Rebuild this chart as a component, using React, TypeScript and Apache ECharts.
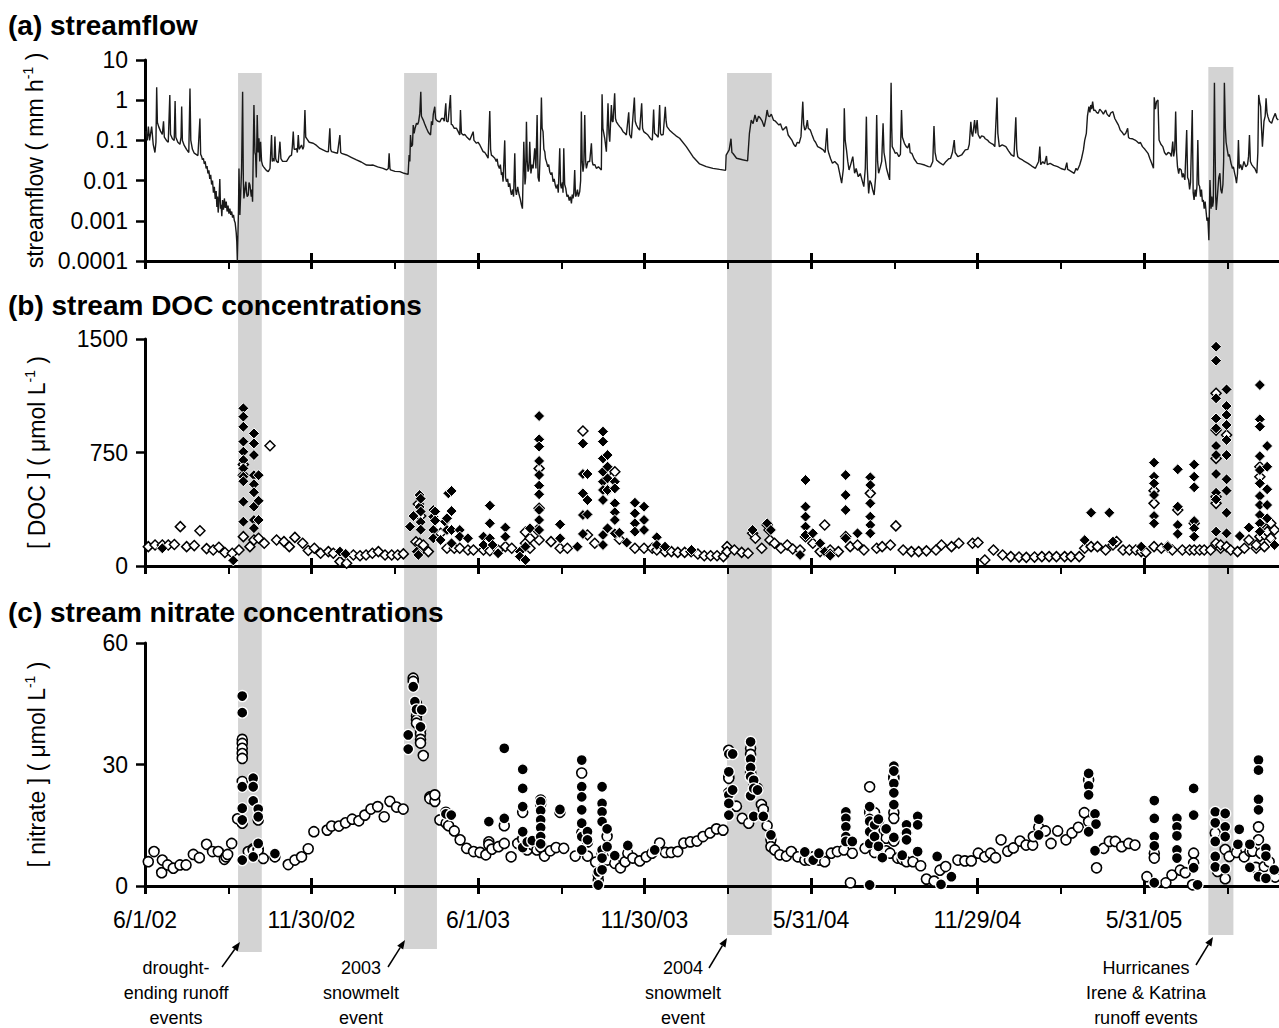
import React, { useEffect, useRef } from "react";
import * as echarts from "echarts";

const FONT = "'Liberation Sans', Arial, Helvetica, sans-serif";

// x values are days since 6/1/2002
const X_STEP = 182.5;
const X_MAX = 1277.5;

const panelTitles = ["(a) streamflow", "(b) stream DOC concentrations", "(c) stream nitrate concentrations"];
const yAxisNames = [
  "{n|streamflow ( mm h}{s|-1}{n| )}",
  "{n|[ DOC ] ( \u03bcmol L}{s|-1}{n| )}",
  "{n|[ nitrate ] ( \u03bcmol L}{s|-1}{n| )}",
];
const flowRange = [0.0001, 10];
const docRange = [0, 1500, 750];
const nitrateRange = [0, 60, 30];

// event bands (days since 6/1/02)
const bandStartDay = [102, 284, 638, 1165.5];
const bandEndDay = [128, 320, 687, 1193];
const bandLabels = [
  "drought-\nending runoff\nevents",
  "2003\nsnowmelt\nevent",
  "2004\nsnowmelt\nevent",
  "Hurricanes\nIrene & Katrina\nrunoff events",
];

// streamflow (mm/h)
const flowA = [
[1,0.17],[2.5,0.1],[3.7,0.22],[5,0.1],[7.3,0.22],[9,0.08],[10.9,0.05],[12,0.09],[12.8,2.1],[13.6,0.28],[15,0.22],[17,0.17],[19,0.14],[20.3,0.3],[21.2,0.12],[23.5,0.1],[25.5,0.09],[27.2,1.35],[28,0.14],[30,0.11],[32,0.1],[33,0.95],[33.8,0.12],[36,0.09],[38.3,0.08],[39.5,0.12],[40.2,0.7],[41,0.1],[43,0.075],[45.5,0.06],[48,0.05],[49.3,1.95],[50.2,0.1],[52,0.06],[54,0.048],[56,0.045],[58,0.042],
[60.2,0.35],[61,0.045],[62,0.04],[63,0.033],[64,0.036],[65,0.026],[66,0.03],[67,0.02],[68,0.023],[69,0.015],[70,0.018],[71,0.011],[72,0.014],[73,0.008],[74,0.01],[75,0.005],[76,0.007],[77,0.0035],[78,0.0055],[78.8,0.0022],[79.5,0.004],[80.2,0.0016],[81,0.003],[82,0.011],[82.8,0.002],[83.5,0.0025],[84.2,0.0013],[85,0.0033],[86,0.0019],[87,0.0036],[88,0.0021],[89,0.003],[90,0.0017],[91,0.0024],[92,0.0015],[93,0.002],[94,0.0014],[95,0.0017],[96,0.0012],[97,0.0014],[98,0.001],[98.8,0.0009],[100,0.0005],[100.6,0.0003],[101.2,0.0001],
[102.5,0.002],[103,0.02],[104,0.0014],[105.9,0.02],[107,1.63],[107.8,0.01],[108.4,0.0036],[109.5,0.006],[110.6,0.0094],[111.3,0.005],[112,0.004],[113.2,0.0044],[114,0.009],[115,0.0078],[116,0.005],[116.5,0.004],[117.2,0.006],[117.9,0.003],[119.4,0.76],[120.5,0.05],[121.2,0.043],[122,0.012],[123,0.43],[124,0.05],[124.9,0.113],[125.8,0.03],[126.7,0.093],[127.8,0.03],[128.9,0.024],[130,0.022],[131.4,0.02],[133,0.018],[135.1,0.0167],[137,0.02],[138.7,0.136],[139.5,0.03],[140.6,0.036],[141.5,0.03],[142.4,0.124],[143.3,0.035],[144.2,0.03],[146,0.028],[147.9,0.093],[149,0.035],[150.8,0.03],[153,0.03],[155.2,0.03],[157,0.035],[158.5,0.04],[160.6,0.043],[161.5,0.07],[162.5,0.165],[163.5,0.06],[165,0.06],[166.1,0.063],[167,0.05],[168,0.136],[169,0.06],[171.6,0.077],[173,0.06],[174,0.07],[175.3,0.57],[176.2,0.12],[177.1,0.113],[180,0.09],[184.4,0.085],[188,0.075],[191.7,0.063],[195,0.058],[199,0.0525],[201,0.052],[202.6,0.2],[203.5,0.06],[204.5,0.0525],[208,0.05],[211,0.048],[213.6,0.136],[214.5,0.05],[215.4,0.0477],[220.9,0.0434],[226,0.038],[231.8,0.0326],[237,0.029],[242.8,0.0244],[247,0.024],[250.1,0.0244],[255,0.022],[261,0.0202],[264.7,0.0184],[266.7,0.02],[267.6,0.0477],[268.5,0.02],[269.1,0.0184],[274,0.017],[279.3,0.0167],[284,0.0152],[288.4,0.0143],
[289.5,0.0434],[290.3,0.03],[291,0.136],[292,0.07],[293.2,0.077],[294,0.242],[295,0.15],[296,0.2],[297.6,0.266],[299,0.25],[300,0.3],[301.2,0.47],[302.3,1.63],[303,0.4],[305,0.32],[306.5,0.26],[308.5,0.2],[310.5,0.16],[313,0.136],[314,0.3],[315.1,0.242],[316,0.45],[317.6,0.69],[318.5,0.35],[319.5,0.32],[321,0.3],[323.1,0.29],[325,0.35],[326.8,0.354],[328,0.3],[329.7,0.836],[330.5,0.3],[332.2,0.29],[334.8,1.35],[335.7,0.25],[337,0.242],[339,0.2],[341.4,0.2],[343,0.17],[345,0.136],
];
const flowB = [
[345.8,0.57],[346.8,0.15],[348.7,0.136],[350.5,0.14],[352.4,0.124],[356,0.102],[359.7,0.165],[360.6,0.1],[363.3,0.085],[365,0.09],[367,0.077],[370.6,0.0525],[372.5,0.05],[374.3,0.043],[376.1,0.036],[377.9,0.54],[378.8,0.06],[379.7,0.043],[381.5,0.04],[383.4,0.036],[385,0.03],[386,0.035],[387,0.024],[388.5,0.02],[389.5,0.025],[390.7,0.0138],[391.5,0.016],[392.5,0.0094],[394.3,0.1],[395.2,0.012],[396.2,0.0094],[397.5,0.011],[398.5,0.007],[399.8,0.0085],[400.8,0.0055],[401.7,0.0044],[403,0.006],[404,0.004],[405.3,0.048],[406.2,0.006],[407.1,0.0044],[408.5,0.007],[410,0.0045],[411.3,0.0035],[412.6,0.0025],[413.7,0.002],[415.2,0.093],[416.5,0.008],[417.2,0.012],[418.1,0.29],[419,0.03],[419.9,0.0167],[420.8,0.02],[421.7,0.093],[423,0.015],[424.2,0.025],[425.4,0.0202],[427.2,0.0635],[428.5,0.02],[429.8,0.43],[430.8,0.012],[432,0.0094],[433.2,0.05],[434.5,1.16],[435.3,0.2],[436.3,0.165],[437.2,0.06],[438.2,0.0525],[439,0.035],[440,0.0296],[441.5,0.022],[442.5,0.025],[443.6,0.0167],[445,0.014],[446,0.016],[447.3,0.0094],[448.5,0.011],[449.8,0.0075],[450.9,0.0064],[452,0.008],[453,0.005],[454.6,0.0635],[455.5,0.008],[456.4,0.0064],[457.5,0.009],[458.2,0.005],[459,0.0635],[460,0.008],[461.2,0.0064],[462.5,0.004],[463.7,0.0044],[465,0.0032],[466.2,0.004],[467.4,0.0027],[468.3,0.0045],[469.2,0.0036],[470,0.005],[471,0.0184],[471.9,0.004],[472.8,0.0044],[474,0.006],[475,0.004],[476.5,0.0053],[477.5,0.01],[478.3,0.52],[479.2,0.03],[480.1,0.0167],[481,0.025],[482,0.43],[483,0.03],[483.8,0.0202],[485.5,0.03],[487.4,0.0296],[489.3,0.085],[490.2,0.03],[491.1,0.0244],[493,0.025],[494.7,0.0202],[497,0.022],[500.2,0.0184],[501,1.4],[501.9,0.2],[503.9,0.113],[505.7,0.0525],[507.5,0.836],[508.5,0.15],[509.4,0.093],[511.2,0.76],[512.1,0.3],[513,0.29],[514.8,1.48],[515.7,0.35],[516.7,0.29],[518.5,0.25],[520.3,0.22],[522,0.2],[524,0.165],[526,0.15],[527.6,0.136],[530.2,0.5],[531.2,0.14],[533.1,0.113],[536.4,1.16],[537.3,0.3],[538.6,0.242],[540.5,0.2],[542.2,0.18],[544.4,0.836],[545.4,0.2],[546.6,0.165],[549,0.15],[551.3,0.136],[554,0.11],[556.1,0.102],[557.5,0.59],[558.5,0.15],[560.5,0.136],[562.5,0.12],[564.1,0.76],[565,0.15],[565.9,0.136],[568,0.14],[570.3,0.69],[571.2,0.3],[572.1,0.22],[575,0.18],[578.7,0.15],[582,0.13],[586,0.113],[593.3,0.07],[600.6,0.0394],[607.9,0.026],[615.2,0.0222],[622.5,0.0202],[629.8,0.019],[636.4,0.018],
];
const flowC = [
[637,0.043],[640.3,0.058],[642.3,0.11],[643.3,0.05],[644.3,0.048],[648.4,0.036],[655,0.033],[660.5,0.031],[662.5,0.15],[664.5,0.32],[666.5,0.26],[668.6,0.43],[670.6,0.29],[672.5,0.4],[674.6,0.354],[676.5,0.3],[678.7,0.22],[680.5,0.35],[681.9,0.57],[683.3,0.4],[684.8,0.39],[686.5,0.45],[688.8,0.32],[691,0.3],[694.9,0.24],[696.5,0.26],[698.9,0.18],[703,0.22],[705,0.136],[709,0.102],[711,0.08],[713,0.07],[715,0.09],[717,0.085],[719,0.124],[721,0.92],[722,0.25],[723.2,0.18],[724.5,0.2],[726,0.32],[727,0.2],[729.3,0.18],[731,0.14],[733.3,0.102],[735,0.09],[737.3,0.07],[740,0.065],[743.4,0.058],[745.5,0.05],[747.5,0.2],[748.5,0.06],[749.5,0.0477],[751.5,0.035],[753.5,0.0269],[756,0.03],[759.6,0.0244],[761.5,0.015],[763.6,0.0086],[765.5,0.02],[766.5,0.63],[767.5,0.1],[768.9,0.058],[770.3,0.03],[771.7,0.0184],[773.5,0.025],[775.8,0.0394],[777.8,0.0152],[779.5,0.02],[781.8,0.0125],[784,0.015],[785.9,0.0104],[787.9,0.0071],[789.5,0.02],[790.7,0.39],[791.7,0.02],[793.2,0.0048],[794.5,0.01],[796,0.0086],[797.5,0.006],[799.2,0.0044],[800.8,0.012],[802,0.43],[803,0.03],[804.1,0.0152],[806.1,0.0222],[807.5,0.03],[809,0.266],[810,0.05],[811.4,0.0326],[812.8,0.02],[814.2,0.0152],[816.2,0.0104],[817.8,2.73],[818.5,0.2],[819,0.07],[820.5,0.06],[822.3,0.0477],[824,0.05],[826.3,0.0394],[828,0.045],[829.2,0.57],[830.2,0.12],[832.4,0.0845],[834.4,0.07],[836,0.065],[837.7,0.0845],[838.7,0.05],[840.5,0.0477],[843,0.035],[846.5,0.0269],[850,0.026],[854.6,0.0244],[858.7,0.0222],[861,0.022],[863.5,0.03],[864.8,0.228],[866,0.05],[867.6,0.0326],[871,0.028],[874.9,0.0244],[878,0.03],[881,0.035],[883,0.0358],[885,0.05],[887,0.102],[888,0.05],[891,0.0394],[895.1,0.0434],[899.1,0.058],[902,0.06],[903.5,0.08],[905.2,0.29],[906.2,0.15],[907.2,0.124],[909.3,0.32],[910.5,0.15],[912.1,0.32],[913.2,0.14],[915.3,0.1125],[917,0.13],[919.4,0.124],[921,0.11],[923.4,0.102],[925.5,0.09],[927.5,0.0845],[929.5,0.08],[931.5,0.07],[933.9,1.16],[934.8,0.15],[936.4,0.07],[939.6,0.077],[943.6,0.07],[946.5,0.055],[949.7,0.0434],[952.5,0.04],[954.5,0.375],[955.5,0.06],[956.6,0.0394],[959,0.035],[961.8,0.0326],[964,0.03],[967.9,0.0269],[972,0.023],[976,0.0202],[979.5,0.03],[980.8,0.07],[981.8,0.025],[984.1,0.0296],[986,0.026],[988.1,0.041],[989,0.025],[992.2,0.0269],[996,0.024],[1000.3,0.0222],[1004,0.02],[1008.4,0.0184],[1010.4,0.028],[1011.3,0.019],[1012.4,0.0184],[1015,0.017],[1018.5,0.0152],[1020.5,0.0202],[1022,0.018],[1024.5,0.0244],[1026.5,0.035],[1028.6,0.058],[1030,0.1],[1031.8,0.15],[1033,0.4],[1034.6,0.69],[1035.7,0.5],[1036.7,0.76],[1037.7,0.6],[1038.7,0.92],[1040,0.55],[1041.5,0.57],[1043,0.5],[1044.8,0.47],[1046.5,0.6],[1048.8,0.52],[1050.5,0.45],[1052.9,0.57],[1054.5,0.45],[1056.9,0.39],[1058.5,0.48],[1060.9,0.52],[1063,0.35],[1065,0.29],[1067,0.24],[1069,0.18],[1071,0.16],[1073.1,0.136],[1075,0.15],[1077.1,0.2],[1078,0.12],[1079.1,0.1125],[1082,0.11],[1085.2,0.102],[1087,0.095],[1089.3,0.0845],[1091,0.09],[1093.3,0.07],[1096,0.06],[1099.4,0.0477],[1101.5,0.035],[1103.4,0.0269],[1105.4,0.0202],[1106.2,1.18],[1107.5,0.6],[1108.7,0.92],[1110.3,1.01],[1111.5,0.102],[1113.5,0.08],[1115.6,0.07],[1117.5,0.05],[1119.6,0.0434],[1121.5,0.05],[1123.6,0.0477],[1125,0.04],[1126.5,0.093],[1127.5,0.04],[1128.7,0.06],[1129.7,0.52],[1130.7,0.05],[1131.7,0.0222],[1133,0.015],[1134,0.02],[1135.8,0.0184],[1137,0.012],[1138,0.015],[1139.8,0.0104],[1141.8,0.18],[1142.8,0.012],[1143.9,0.0104],[1145,0.006],[1146,0.009],[1147.9,0.57],[1148.9,0.005],[1149.9,0.0033],[1151,0.006],[1152,0.004],[1153,0.007],[1154,0.102],[1155,0.008],[1156,0.0071],[1157,0.004],[1158,0.006],[1159,0.003],[1160,0.0033],[1161,0.002],[1162,0.003],[1162.9,0.00186],[1164,0.001],[1165,0.0012],[1166.1,0.00033],[1167.3,0.0104],[1168.5,0.002],[1169.3,0.004],[1170.2,0.00225],[1171,0.003],[1172.2,2.73],[1173,0.05],[1173.6,0.004],[1174.2,0.00186],[1175,0.003],[1176.2,0.0071],[1177,0.012],[1178.2,0.0152],[1179.2,0.006],[1180.3,0.0048],[1181.5,0.008],[1182.3,0.03],[1183.1,2.73],[1184.2,0.2],[1185,0.09],[1186.3,0.058],[1187.5,0.04],[1188.5,0.045],[1190.4,0.0269],[1192,0.02],[1193,0.022],[1194.4,0.0152],[1195.4,0.012],[1196.4,0.0086],[1197.5,0.015],[1198.5,0.102],[1199.5,0.02],[1201,0.025],[1202.5,0.0184],[1204.5,0.03],[1206.6,0.0222],[1208.5,0.025],[1209.6,0.04],[1210.6,0.136],[1211.6,0.03],[1213,0.025],[1214.7,0.0222],[1216.5,0.02],[1218.7,0.0152],[1219.8,0.05],[1220.7,1.35],[1221.8,0.9],[1222.8,0.69],[1223.8,0.2],[1224.8,0.07],[1226.5,0.3],[1227.8,0.4],[1228.8,1.11],[1229.8,0.5],[1230.8,0.39],[1232.5,0.3],[1234.9,0.266],[1236.5,0.35],[1238.9,0.47],[1240.5,0.35],[1242.2,0.32],
];

// DOC (umol/L): open diamonds and filled diamonds
const docOpen = [
[3.6,128],[11,139],[19,139],[25.5,139],[32.2,142],[38.7,260],[45.6,128],[54,135],[60.2,233],[67.5,115],[74.8,106],[81,124],[87.6,89],[95.6,84],[103,106],
[107.8,670],[107.8,600],[107.8,194],[115,128],[119.4,172],[124.5,183],
[130.7,150],[137,795],[144.2,172],[152.3,161],[158.2,128],[164.3,189],[172.8,150],[179,102],[185.6,117],[192.5,84],[201,95],[206.4,84],[213.7,29],[221,18],[228.4,73],[235.7,68],[242.3,73],[249.2,84],[255.8,95],[263.1,73],[270.4,73],[277,73],[283.2,80],
[297,160],[299.6,410],[301,150],[301,95],[302.2,330],[305.1,139],[310.6,95],
[324,216],[331,117],[339,117],[345,117],[354,106],[360,106],[371,106],[378,101],[387,106],[395,128],[402,117],[417,225],[417,150],[422,183],[422,117],[430,238],[432,645],[432,381],[432,172],[445,161],[455,117],[463,117],[480,892],[485,205],[493,150],[507,623],[507,502],[515,623],[520,177],[537,117],[547,117],[556,117],[561,106],[570,95],[577,95],[584,90],[591.5,90],[598.6,95],[606,79],[613,68],[620,68],[627,68],[634,62],
[638,128],[638,95],[646,106],[654,90],[661,84],[666,216],[669,183],[676,117],[682,271],[684,238],[685,172],[690,150],
[697,117],[704,139],[710,112],[718,106],[724,194],[732,150],[740,95],[745,271],[751,106],[760,95],[768,194],[773,128],[781,139],[788,106],[795,480],[802,117],[808,128],[817,139],[823,265],[831,106],[840,95],[848,95],[856.5,100],[867,106],[873,139],[884,128],[892,150],[907,150],[913,155],[920.5,40],[930,106],
[940,73],[949,62],[958,59],[966,57],[975,59],[983,62],[991,62],[999,62],[1008,62],[1015,62],[1024,62],[1030,117],[1037,128],[1044,128],[1053,106],[1061,139],[1065,161],[1072,106],[1079,106],[1086,106],[1092,95],[1097,90],[1106,498],[1106,414],[1106,128],[1114,117],[1121,128],[1126,106],[1132,370],[1137,106],[1145,106],[1150,282],[1150,106],[1156,106],[1161,106],[1168,106],
[1174,1141],[1174,898],[1174,711],[1174,458],[1174,414],[1174,150],[1179,117],[1179,139],[1185.5,866],[1185.5,128],[1190,106],[1197.5,95],[1205,117],[1210,172],[1218,117],[1218,139],[1222,656],[1222,590],[1222,194],[1227,128],[1227,205],[1230,249],[1230,227],[1234,282],[1234,183],[1238,238],
];
const docFilled = [
[19,117],[96.8,37],
[107.8,1042],[107.8,987],[107.8,920],[107.8,822],[107.8,755],[107.8,700],[107.8,645],[107.8,590],[107.8,560],[107.8,425],[107.8,293],
[119.4,876],[119.4,810],[119.4,733],[119.4,600],[119.4,540],[119.4,487],[119.4,392],[119.4,304],[119.4,250],
[124.5,600],[124.5,431],[124.5,304],
[213.7,95],[220,80],
[290.5,260],[294.2,330],[297.8,95],[299.6,73],[301,469],[301,390],[302.2,445],[302.2,360],[302.2,290],[302.2,240],[316,370],[316,326],[316,238],[316,183],[318,360],[318,300],[324,172],[329,293],[331,315],[331,238],[332.5,480],[336,496],[336,363],[336,238],[336,150],[345,238],[345,194],[354,183],[371,194],[371,139],[378,399],[378,282],[378,183],[381,139],[387,84],[395,254],[395,194],[411,95],[411,62],[417,128],[417,40],[422,249],
[432,991],[432,837],[432,789],[432,694],[432,601],[432,531],[432,474],[432,370],[432,304],[432,238],
[455,275],[455,183],[474,128],
[480,809],[480,608],[480,480],[480,337],[480,212],[485,608],[485,436],[485,341],
[502,888],[502,822],[502,711],[502,623],[502,557],[502,502],[502,436],[502,205],[502,139],
[507,733],[507,656],[507,579],[507,502],[507,249],
[515,557],[515,513],[515,414],[515,355],[515,304],[515,216],[520,220],[528,155],
[537,418],[537,348],[537,282],[537,227],[547,392],[547,304],[547,238],[561,190],[561,139],[570,128],[599,106],
[666,238],[682,282],[686,238],[718,73],
[724,568],[724,392],[724,326],[724,260],[724,205],[732,216],[740,150],[745,95],[751,84],[751,68],
[768,601],[768,469],[768,370],[768,183],[781,216],
[795,586],[795,535],[795,414],[795,326],[795,271],[795,216],
[1030,171],[1037,352],[1057,352],[1061,161],[1092,128],
[1106,683],[1106,590],[1106,546],[1106,469],[1106,330],[1106,282],[1121,128],
[1132,639],[1132,392],[1132,271],[1132,212],
[1150,670],[1150,590],[1150,520],[1150,297],[1150,249],[1150,194],
[1174,1449],[1174,1357],[1174,1108],[1174,975],[1174,910],[1174,793],[1174,733],[1174,608],[1174,484],[1174,440],[1174,227],
[1185.5,1167],[1185.5,1057],[1185.5,998],[1185.5,932],[1185.5,833],[1185.5,733],[1185.5,573],[1185.5,498],[1185.5,352],[1185.5,216],
[1200,198],[1210,254],
[1222,1196],[1222,969],[1222,921],[1222,726],[1222,634],[1222,546],[1222,462],[1222,403],[1222,337],[1222,282],[1222,227],
[1230,793],[1230,656],[1230,507],[1230,403],[1230,315],[1238,139],
];

// nitrate (umol/L): open circles and filled circles
const nitrateOpen = [
[3.6,6.0],[9.9,8.5],[18.3,3.3],[19,6.4],[24.8,5.2],[31,4.4],[38.3,5.2],[45,5.2],[53,7.8],[59.6,7.0],[67.5,10.3],[74,8.5],[80.3,8.5],[87,6.6],[88.8,7.2],[90.6,7.8],[95,10.5],[101.5,16.6],
[106.6,36.2],[106.6,35.2],[106.6,34],[106.6,32.7],[106.6,31.5],[106.6,25.8],[106.6,15.5],[113.2,8.5],[118.6,9.2],[118.6,8.8],[124.1,16.3],[124.1,9.2],[124.1,8.8],[129.6,6.8],
[142.4,7.2],[157,5.3],[164.3,6.4],[171.6,7.2],[178.9,9.2],[185.1,13.4],[199.7,13.8],[204.5,14.8],[212.5,14.8],[219.8,15.6],[227.1,16.5],[234.4,16.1],[241,17.5],[247.6,19],[255,19.6],[262.2,17.1],[268.4,20.9],[275.7,19.5],[283,19],
[294,51.3],[294,50.5],[297.6,45],[297.6,42],[297.6,41],[297.6,40.2],[302,38.4],[302,37.5],[302,36.2],[302,35.3],[305,32.2],
[312.2,22],[312.2,21.6],[317.7,20.9],[317.7,22.5],[323.2,16.3],[329.8,18.2],[330,15.5],[332.8,14.9],[339,13.6],[345.4,11.4],[352.5,9.3],[360.1,8.5],[367.2,8.3],[373.6,7.7],[376.9,10.9],[376.9,10.2],[380.3,9.1],[387.4,9.7],[393.8,14.9],[393.8,10.5],[401.3,7.2],[408.5,10.5],[414,18.2],[414,11.6],[419,8.9],[424.5,10.2],[429.5,8.9],[433.7,21.2],[433.7,20.2],[433.7,10.2],[433.7,9.6],[437.9,7.4],[444.2,8.7],[450.6,9.5],[454.8,18.2],[459,9.3],[471.6,7.4],[478.7,27.9],[478.7,13.1],[485,10.9],[485,7.4],[493.9,5.9],[496.8,1.5],[496.8,2.7],[501,8.1],[506.5,12.2],[506.5,6.4],[514.9,5.6],[521.2,4.5],[526.3,6.0],[529.2,8.1],[534.7,6.9],[542.3,6.2],[549.4,7.2],[555.7,8.1],[564.1,10.6],[570.4,8.3],[576.8,8.3],[583.9,8.5],[590.6,10.6],[597.8,10.9],[605,11.1],[611.7,12.2],[619.3,13.1],[626.4,14.1],[633.6,13.8],
[639.9,33.5],[639.9,27],[639.9,26.6],[639.9,23],[644.1,19.7],[648.3,19.7],[654.6,16.7],[661.7,15.5],[663.8,34],[663.8,32.5],[663.8,28],[663.8,27.5],[667.2,24.5],[671.4,24.1],[675.6,20.1],[677.7,18.9],[681.9,14.9],[686.1,11.4],[686.1,9.7],
[690.3,8.9],[695.8,7.7],[703,7.4],[708.4,8.5],[715.6,7.2],[723.2,6.4],[728.2,6.4],[732.4,7.2],[738.7,6.4],[745,6.0],[752.2,8.1],[758.9,8.5],[766.1,8.9],[768.2,11.4],[773.2,0.8],[775.3,8.1],[789.2,9.3],[794.3,24.5],[794.3,18.8],[794.3,18.1],[799.7,18.1],[799.7,14.4],[799.7,13.3],[799.7,8.3],[803.9,15.9],[812.4,13.1],[812.4,11.8],[812.4,8.7],[816.6,8.1],[820.8,27],[820.8,26.5],[820.8,18.1],[820.8,16.7],[820.8,11.1],[825,6.9],[830,6.6],[834.7,13.1],[834.7,6.0],[841.8,6.0],[850.2,5.0],[856.5,1.7],[864.9,1.2],[871.3,3.9],[877.6,4.8],[891,6.4],[898.6,6.2],[905.7,6.2],[913.3,8.1],[920.5,7.2],[926.8,8.1],[932.3,7.0],
[938.3,11.4],[945.6,8.6],[951.8,9.4],[959.1,11.1],[965.7,10.1],[973,10.1],[973.7,12.2],[979.6,14.5],[986.9,13.6],[993.1,10.5],[1000.4,13.6],[1009.5,11.4],[1016.1,13.1],[1023,14.5],[1029.6,18.1],[1034.3,26.2],[1034.3,15.9],[1043,4.5],[1050.8,9.3],[1057,11],[1063.6,11],[1070.5,9.7],[1078.2,10.5],[1085.1,10.1],[1098.2,2.3],[1106.3,8.1],[1106.3,6.9],[1119,0.8],[1125.6,2.7],[1134.7,3.9],[1140.2,3.3],[1148.3,0.3],[1149.4,8.1],[1149.4,5.7],
[1173.1,13.1],[1175.6,3.6],[1184,9.0],[1184,1.8],[1188.4,7.3],[1196.5,8.3],[1204.8,7.2],[1211,8.6],[1214,8.6],[1217.6,4.6],[1220.5,14.6],[1220.5,11.4],[1223.1,8.1],[1226.8,4.8],[1232.2,6.0],[1238.8,2.2],
];
const nitrateFilled = [
[106.6,46.9],[106.6,42.8],[106.6,24.5],[106.6,19.2],[106.6,16.3],[106.6,6.4],[118.6,26.6],[118.6,24.5],[118.6,21],[118.6,7.2],[124.1,19],[124.1,17.1],[124.1,10.5],[142.4,8],
[288.5,37.3],[288.5,33.8],[294,49.2],[295.8,45.5],[297.6,43.6],[302,39.3],[303.3,43.5],
[329.8,17.8],[335.7,17.5],[376.9,15.9],[393.8,34],[393.8,16.7],[414,28.8],[414,24.1],[414,19.6],[414,13.4],[414,9.5],[419,10.9],[424.5,11.2],[433.7,20.8],[433.7,18.6],[433.7,16.3],[433.7,14.4],[433.7,12.2],[433.7,10.4],[454.8,18.9],[478.7,31.1],[478.7,24.5],[478.7,22],[478.7,18.8],[478.7,15.5],[478.7,12.2],[478.7,8.9],[485,13.4],[485,11.4],[496.8,3.5],[496.8,0.25],[501,24.5],[501,20.4],[501,18.3],[501,15.9],[501,8.9],[501,6.9],[501,4.0],[506.5,14.1],[506.5,9.7],[514.9,7.5],[529.2,10.0],[558.7,8.9],
[639.9,32.6],[639.9,28.2],[639.9,22.5],[639.9,20.4],[639.9,17.5],[644.1,32.6],[644.1,23.7],[663.8,35.6],[663.8,31.3],[663.8,29.2],[663.8,27],[663.8,22.3],[667.2,26.1],[667.2,24.1],[667.2,17.2],[671.4,23.7],[677.7,17.2],[686.1,12.6],
[723.2,8.4],[732.4,6.4],[738.7,8.1],[768.2,18.3],[768.2,16.7],[768.2,14.6],[768.2,12.2],[768.2,11.0],[775.3,11.0],[794.3,19.6],[794.3,16.7],[794.3,16.0],[794.3,13.4],[794.3,10.5],[794.3,0.25],[799.7,15.1],[799.7,12.2],[803.9,16.5],[803.9,9.8],[808.2,7.0],[812.4,14.1],[820.8,29.6],[820.8,28.4],[820.8,25.3],[820.8,23],[820.8,20.1],[820.8,12.0],[830,7.6],[834.7,15.1],[834.7,13.1],[834.7,11.4],[846.9,17.2],[846.9,15.1],[846.9,8.5],[868.3,7.3],[872.5,0.4],[883.9,2.3],
[979.6,16.5],[979.6,12.6],[1034.3,27.8],[1034.3,24.7],[1034.3,22.5],[1034.3,13.4],[1041.3,17.8],[1042.4,15.3],[1041.3,8.7],[1106.3,21.1],[1106.3,16.7],[1106.3,12.2],[1106.3,9.9],[1106.3,0.8],[1131.1,16.7],[1131.1,14.6],[1131.1,12.4],[1131.1,8.9],[1131.1,6.9],[1149.4,24.1],[1149.4,17.5],[1149.4,4.5],[1153.7,0.3],
[1173.1,18.3],[1173.1,15.6],[1173.1,11.0],[1173.1,7.3],[1173.1,4.7],[1184,17.9],[1184,14.6],[1184,12.2],[1184,4.3],[1197.9,10.3],[1199.4,14.0],[1211,10.3],[1211,4.6],[1220.5,31.1],[1220.5,28.6],[1220.5,21.4],[1220.5,18.8],[1220.5,2.3],[1228.6,9.3],[1228.6,7.4],[1228.6,1.9],[1237.7,4.0],
];

// ---------- layout (pixels) ----------
const VIEW_W = 1279;
const VIEW_H = 1028;
const CANVAS_W = 1340; // wider than the view so the time axis can run past the right edge
const PLOT_LEFT = 145;
const PLOT_W = 1165.5;
const PANEL_TOP = [60, 339, 643];
const PANEL_H = [201, 227, 243];
const TITLE_Y = [25, 305, 612];
const BAND_TOP = [73, 73, 73, 67];
const BAND_BOTTOM = [952, 949, 935, 935];
const LABEL_X = [176, 361, 683, 1146];
const LABEL_TOP = 955;
const ARROWS = [
  [222, 967, 240, 942],
  [388, 967, 405, 940],
  [709, 968, 727, 938],
  [1196, 965, 1213, 937],
];

const ORIGIN = Date.UTC(2002, 5, 1);
function dayLabel(v: number) {
  const d = new Date(ORIGIN + Math.floor(v + 1e-6) * 86400000);
  return `${d.getUTCMonth() + 1}/${d.getUTCDate()}/${String(d.getUTCFullYear()).slice(2)}`;
}

function arrow(x1: number, y1: number, x2: number, y2: number) {
  const dx = x2 - x1, dy = y2 - y1;
  const len = Math.hypot(dx, dy);
  const ux = dx / len, uy = dy / len;
  const hl = 9, hw = 3.6;
  const bx = x2 - ux * hl, by = y2 - uy * hl;
  return [
    { type: "line", z: 20, shape: { x1, y1, x2: bx, y2: by }, style: { stroke: "#000", lineWidth: 1.5 } },
    { type: "polygon", z: 20, shape: { points: [[x2, y2], [bx - uy * hw, by + ux * hw], [bx + uy * hw, by - ux * hw]] }, style: { fill: "#000" } },
  ];
}

function mainXAxis(gridIndex: number, showLabel: boolean) {
  return {
    type: "value", gridIndex, position: "bottom", min: 0, max: X_MAX, interval: X_STEP, z: 3,
    axisLine: { show: true, onZero: false, lineStyle: { color: "#000", width: 3 } },
    axisTick: { show: true, inside: false, length: 8, lineStyle: { color: "#000", width: 3 } },
    minorTick: { show: true, splitNumber: 2, length: 8, lineStyle: { color: "#000", width: 2 } },
    splitLine: { show: false }, minorSplitLine: { show: false },
    axisLabel: { show: showLabel, fontSize: 23, fontFamily: FONT, color: "#000", margin: 22, showMaxLabel: false, formatter: dayLabel },
  };
}
function innerXAxis(gridIndex: number) {
  return {
    type: "value", gridIndex, position: "bottom", min: 0, max: X_MAX, interval: X_STEP, z: 3,
    axisLine: { show: false, onZero: false },
    axisTick: { show: true, inside: true, length: 8, lineStyle: { color: "#000", width: 3 } },
    minorTick: { show: false }, splitLine: { show: false }, axisLabel: { show: false },
  };
}
function yAxisBase(gridIndex: number, name: string) {
  return {
    gridIndex, name, nameLocation: "middle", nameGap: 94, nameRotate: 90,
    nameTextStyle: {
      rich: {
        n: { fontSize: 23, fontFamily: FONT, color: "#000", lineHeight: 28 },
        s: { fontSize: 14, fontFamily: FONT, color: "#000", verticalAlign: "top", lineHeight: 16 },
      },
    },
    z: 3,
    axisLine: { show: true, onZero: false, lineStyle: { color: "#000", width: 3 } },
    axisTick: { show: true, inside: false, length: 9, lineStyle: { color: "#000", width: 2.5 } },
    splitLine: { show: false },
    axisLabel: { fontSize: 23, fontFamily: FONT, color: "#000", margin: 17, formatter: (v: number) => String(v) },
  };
}

function buildOption() {
  const grid = [
    ...PANEL_TOP.map((t, i) => ({ left: PLOT_LEFT, top: t, width: PLOT_W, height: PANEL_H[i] })),
    { left: PLOT_LEFT, top: 60, width: PLOT_W, height: 900 },
  ];
  const xAxis = [
    mainXAxis(0, false), innerXAxis(0),
    mainXAxis(1, false), innerXAxis(1),
    mainXAxis(2, true), innerXAxis(2),
    { type: "value", gridIndex: 3, min: 0, max: X_MAX, show: false },
  ];
  const yAxis = [
    {
      ...yAxisBase(0, yAxisNames[0]), type: "log", logBase: 10, min: flowRange[0], max: flowRange[1], splitNumber: 5,
      axisLabel: { fontSize: 23, fontFamily: FONT, color: "#000", margin: 17, formatter: (v: number) => String(Number(v.toPrecision(1))) },
    },
    { ...yAxisBase(1, yAxisNames[1]), type: "value", min: docRange[0], max: docRange[1], interval: docRange[2] },
    { ...yAxisBase(2, yAxisNames[2]), type: "value", min: nitrateRange[0], max: nitrateRange[1], interval: nitrateRange[2] },
    { type: "value", gridIndex: 3, min: 0, max: 1, show: false },
  ];
  const series: any[] = [
    {
      type: "custom", xAxisIndex: 6, yAxisIndex: 3, z: 1, silent: true,
      data: bandStartDay.map((s, i) => [s, bandEndDay[i]]),
      renderItem: (params: any, api: any) => {
        const i = params.dataIndex;
        const x0 = api.coord([api.value(0), 0])[0];
        const x1 = api.coord([api.value(1), 0])[0];
        return { type: "rect", shape: { x: x0, y: BAND_TOP[i], width: x1 - x0, height: BAND_BOTTOM[i] - BAND_TOP[i] }, style: { fill: "#d3d3d3" } };
      },
    },
    {
      type: "line", name: "streamflow", xAxisIndex: 0, yAxisIndex: 0, z: 4,
      data: [...flowA, ...flowB, ...flowC], symbol: "none", showSymbol: false,
      lineStyle: { color: "#1a1a1a", width: 1.4 },
    },
    {
      type: "scatter", name: "DOC open", xAxisIndex: 2, yAxisIndex: 1, z: 4, data: docOpen,
      symbol: "diamond", symbolSize: 10, itemStyle: { color: "#fff", borderColor: "#000", borderWidth: 1.5, opacity: 1 },
    },
    {
      type: "scatter", name: "DOC filled", xAxisIndex: 2, yAxisIndex: 1, z: 5, data: docFilled,
      symbol: "diamond", symbolSize: 11, itemStyle: { color: "#000", borderColor: "#fff", borderWidth: 1, opacity: 1 },
    },
    {
      type: "scatter", name: "nitrate open", xAxisIndex: 4, yAxisIndex: 2, z: 4, data: nitrateOpen,
      symbol: "circle", symbolSize: 10, itemStyle: { color: "#fff", borderColor: "#000", borderWidth: 1.6, opacity: 1 },
    },
    {
      type: "scatter", name: "nitrate filled", xAxisIndex: 4, yAxisIndex: 2, z: 5, data: nitrateFilled,
      symbol: "circle", symbolSize: 11, itemStyle: { color: "#000", borderColor: "#fff", borderWidth: 1.3, opacity: 1 },
    },
  ];
  const graphic: any[] = [
    ...panelTitles.map((t, i) => ({
      type: "text", x: 8, y: TITLE_Y[i], z: 20,
      style: { text: t, fontSize: 28, fontWeight: "bold", fontFamily: FONT, fill: "#000", verticalAlign: "middle", align: "left" },
    })),
    ...bandLabels.map((t, i) => ({
      type: "text", x: LABEL_X[i], y: LABEL_TOP, z: 20,
      style: { text: t, fontSize: 18, fontFamily: FONT, fill: "#000", align: "center", verticalAlign: "top", lineHeight: 25 },
    })),
    ...ARROWS.flatMap((a) => arrow(a[0], a[1], a[2], a[3])),
  ];
  return { animation: false, backgroundColor: "#fff", grid, xAxis, yAxis, series, graphic };
}

export default function App() {
  const ref = useRef<HTMLDivElement>(null);
  useEffect(() => {
    const chart = echarts.init(ref.current as HTMLDivElement, null, { renderer: "svg" });
    chart.setOption(buildOption() as any);
    return () => chart.dispose();
  }, []);
  return (
    <div style={{ position: "fixed", left: 0, top: 0, width: VIEW_W, height: VIEW_H, overflow: "hidden", background: "#fff" }}>
      <div ref={ref} style={{ width: CANVAS_W, height: VIEW_H }} />
    </div>
  );
}
